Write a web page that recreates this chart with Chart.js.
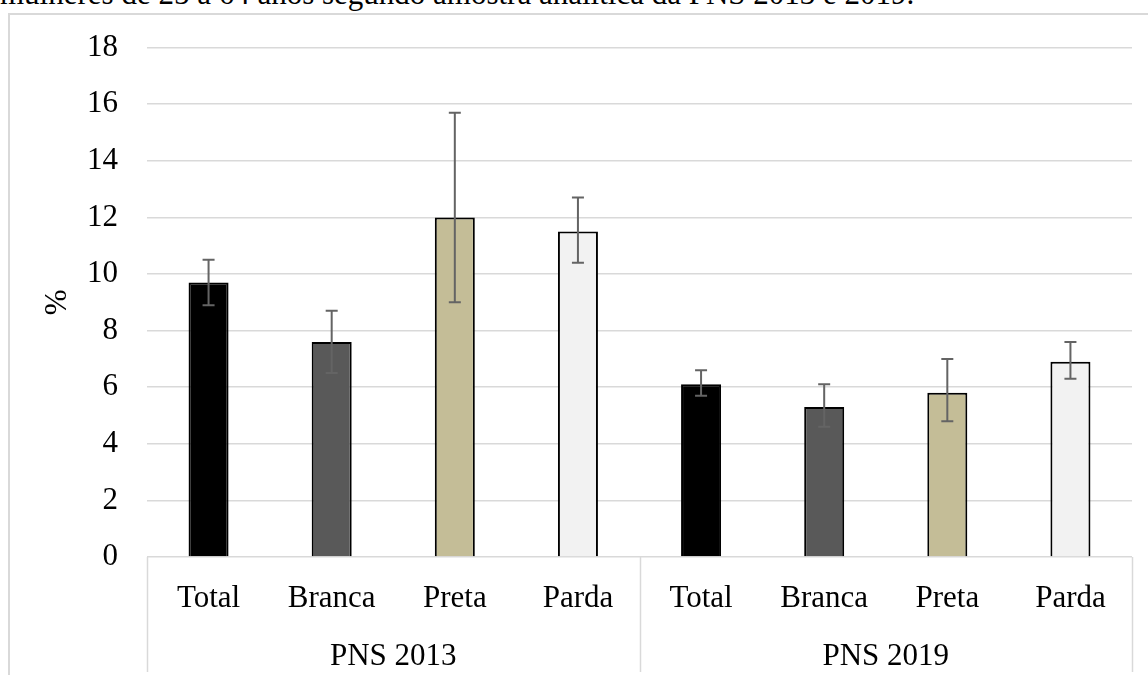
<!DOCTYPE html>
<html>
<head>
<meta charset="utf-8">
<script src="https://cdn.jsdelivr.net/npm/chart.js@4.4.1/dist/chart.umd.min.js"></script>
<style>
  body { margin: 0; background: #fff; overflow: hidden; }
  #wrap { position: relative; width: 1148px; height: 675px; overflow: hidden; }
  #caption {
    position: absolute; left: 0; top: -24px; white-space: nowrap;
    font-family: "Liberation Serif", "Times New Roman", serif; font-size: 31px; color: #000;
  }
  canvas { position: absolute; left: 0; top: 0; }
</style>
</head>
<body>
<div id="wrap">
  <div id="caption">mulheres de 25 a 64 anos segundo amostra analítica da PNS 2013 e 2019.</div>
  <canvas id="chart" width="1148" height="675"></canvas>
</div>
<script>
// categories
const groups = ["PNS 2013", "PNS 2019"];
const subLabels = ["Total", "Branca", "Preta", "Parda", "Total", "Branca", "Preta", "Parda"];
// prevalence (%) and 95% CI
const values = [9.7, 7.6, 12.0, 11.5, 6.1, 5.3, 5.8, 6.9];
const lower  = [8.9, 6.5, 9.0, 10.4, 5.7, 4.6, 4.8, 6.3];
const upper  = [10.5, 8.7, 15.7, 12.7, 6.6, 6.1, 7.0, 7.6];
// y ticks
const yTicks = [0, 2, 4, 6, 8, 10, 12, 14, 16, 18];

const barColors = ["#000000", "#595959", "#C4BD97", "#F2F2F2", "#000000", "#595959", "#C4BD97", "#F2F2F2"];
const serif = "'Liberation Serif', 'Times New Roman', serif";

// frame, error bars and the grouped category axis
const extras = {
    id: "extras",
    beforeDraw(chart) {
        const ctx = chart.ctx;
        ctx.save();
        ctx.strokeStyle = "#d9d9d9";
        ctx.lineWidth = 2;
        ctx.strokeRect(9, 14, 1300, 800);
        ctx.restore();
    },
    afterDatasetsDraw(chart) {
        const ctx = chart.ctx;
        const x = chart.scales.x, y = chart.scales.y;
        ctx.save();
        ctx.strokeStyle = "#646464";
        ctx.lineWidth = 2;
        values.forEach((v, i) => {
            const px = x.getPixelForValue(i);
            const top = y.getPixelForValue(upper[i]);
            const bot = y.getPixelForValue(lower[i]);
            ctx.beginPath();
            ctx.moveTo(px, top); ctx.lineTo(px, bot);
            ctx.moveTo(px - 6, top); ctx.lineTo(px + 6, top);
            ctx.moveTo(px - 6, bot); ctx.lineTo(px + 6, bot);
            ctx.stroke();
        });
        ctx.restore();
    },
    afterDraw(chart) {
        const ctx = chart.ctx;
        const x = chart.scales.x;
        const area = chart.chartArea;
        const per = subLabels.length / groups.length;
        const half = (x.getPixelForValue(1) - x.getPixelForValue(0)) / 2;
        ctx.save();
        ctx.strokeStyle = "#d9d9d9";
        ctx.lineWidth = 1.5;
        for (let g = 0; g <= groups.length; g++) {
            const px = g < groups.length ? x.getPixelForValue(g * per) - half : x.getPixelForValue(subLabels.length - 1) + half;
            ctx.beginPath();
            ctx.moveTo(Math.round(px) + 0.5, area.bottom);
            ctx.lineTo(Math.round(px) + 0.5, 672);
            ctx.stroke();
        }
        ctx.fillStyle = "#000";
        ctx.font = "31px " + serif;
        ctx.textAlign = "center";
        ctx.textBaseline = "alphabetic";
        groups.forEach((name, g) => {
            const a = x.getPixelForValue(g * per) - half;
            const b = x.getPixelForValue(g * per + per - 1) + half;
            ctx.fillText(name, (a + b) / 2, 665);
        });
        ctx.restore();
    }
};

new Chart(document.getElementById("chart"), {
    type: "bar",
    data: {
        labels: subLabels,
        datasets: [{
            data: values,
            backgroundColor: barColors,
            borderColor: "#000000",
            borderWidth: 2,
            categoryPercentage: 1,
            barPercentage: 0.325
        }]
    },
    options: {
        responsive: false,
        animation: false,
        layout: { padding: { top: 40, right: 16, left: 0, bottom: 0 } },
        plugins: { legend: { display: false }, tooltip: { enabled: false } },
        scales: {
            x: {
                grid: { display: false },
                border: { display: false },
                ticks: { color: "#000", font: { family: serif, size: 31 }, padding: 15, maxRotation: 0 },
                afterFit(scale) { scale.height = 118; }
            },
            y: {
                min: 0, max: 18,
                afterBuildTicks(scale) { scale.ticks = yTicks.map(v => ({ value: v })); },
                grid: { color: "#d9d9d9", lineWidth: 1.5, drawTicks: false },
                border: { display: false },
                ticks: { color: "#000", font: { family: serif, size: 31 }, padding: 29 },
                title: { display: true, text: "%", color: "#000", font: { family: serif, size: 31 }, padding: { top: 39, bottom: 0 } },
                afterFit(scale) { scale.width = 147; }
            }
        }
    },
    plugins: [extras]
});
</script>
</body>
</html>
